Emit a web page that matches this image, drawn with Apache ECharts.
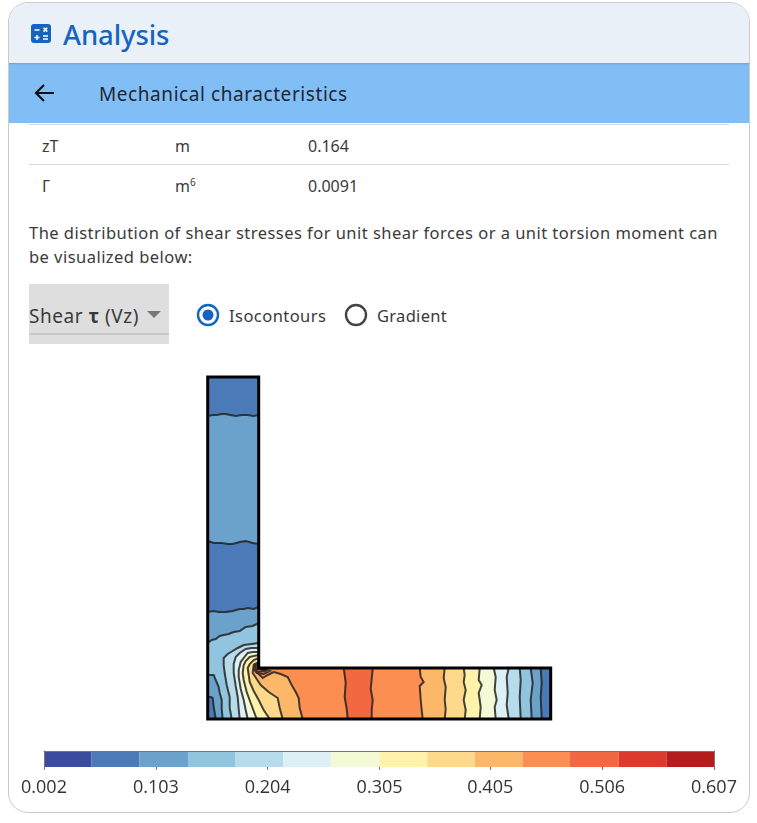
<!DOCTYPE html>
<html>
<head>
<meta charset="utf-8">
<title>Analysis</title>
<script src="https://cdn.jsdelivr.net/npm/echarts@6/dist/echarts.min.js"></script>
<style>
html,body{margin:0;padding:0;width:757px;height:823px;background:#fff;overflow:hidden;font-family:"Noto Sans",sans-serif;color:#3a3a3a}
.abs{position:absolute;white-space:nowrap}
#card{left:8px;top:2px;width:740px;height:809px;border:1px solid #c9c9c9;border-radius:20px;overflow:hidden}
#head{left:0;top:0;width:740px;height:60px;background:#e9f0f8}
#bar{left:0;top:60px;width:740px;height:60px;background:#82bef6;box-shadow:inset 0 2px 2px -1px rgba(60,110,170,.35)}
.rule{left:29px;width:700px;height:1px;background:#d6d6d6}
#container{position:absolute;left:0;top:350px;width:757px;height:460px}
</style>
</head>
<body>
<div class="abs" id="card">
	<div class="abs" id="head"></div>
	<div class="abs" id="bar"></div>
</div>
<svg class="abs" style="left:31px;top:24px" width="21" height="20" viewBox="0 0 21 20">
	<rect width="20" height="19" rx="3" fill="#1565c0"/>
	<path d="M3.500 6h5M3.500 13.500h5M6 11v5M12 12h5M12 15h5M12.500 3.800l3.800 3.800M16.300 3.800l-3.800 3.800" stroke="#fff" stroke-width="1.500" fill="none"/>
</svg>
<div class="abs" style="left:63px;top:15px;font-size:27.500px;line-height:40px;font-weight:500;letter-spacing:-.1px;color:#1565c0">Analysis</div>
<svg class="abs" style="left:33px;top:83px" width="22" height="20" viewBox="0 0 22 20">
	<path d="M21 10H3M11 2l-8 8 8 8" stroke="#111" stroke-width="2.200" fill="none"/>
</svg>
<div class="abs" style="left:99px;top:80px;font-size:19px;line-height:28px;letter-spacing:.57px;color:#1c2733">Mechanical characteristics</div>
<div class="abs rule" style="top:124px"></div>
<div class="abs rule" style="top:164px"></div>
<div class="abs" style="left:42px;top:134px;font-size:16px;line-height:24px">zT</div>
<div class="abs" style="left:175px;top:134px;font-size:16px;line-height:24px">m</div>
<div class="abs" style="left:308px;top:134px;font-size:16px;line-height:24px">0.164</div>
<div class="abs" style="left:42px;top:174px;font-size:16px;line-height:24px">Γ</div>
<div class="abs" style="left:175px;top:174px;font-size:16px;line-height:24px">m<sup style="font-size:10px;line-height:0">6</sup></div>
<div class="abs" style="left:308px;top:174px;font-size:16px;line-height:24px">0.0091</div>
<div class="abs" style="left:29px;top:221px;font-size:16.500px;line-height:24px;letter-spacing:.46px">The distribution of shear stresses for unit shear forces or a unit torsion moment can</div>
<div class="abs" style="left:29px;top:245px;font-size:16.500px;line-height:24px;letter-spacing:.46px">be visualized below:</div>
<div class="abs" style="left:29px;top:284px;width:140px;height:60px;background:#dedede"></div>
<div class="abs" style="left:29px;top:333px;width:140px;height:2px;background:#c9c9c9"></div>
<div class="abs" style="left:29px;top:302px;font-size:19px;line-height:28px;letter-spacing:.55px">Shear <b>τ</b> (Vz)</div>
<svg class="abs" style="left:147px;top:311px" width="14" height="8"><path d="M0 0h14l-7 7z" fill="#777"/></svg>
<svg class="abs" style="left:196px;top:303px" width="24" height="24">
	<circle cx="12" cy="12" r="10" fill="none" stroke="#1565c0" stroke-width="2.400"/><circle cx="12" cy="12" r="5.500" fill="#1565c0"/>
</svg>
<div class="abs" style="left:229px;top:304px;font-size:16.500px;line-height:24px;letter-spacing:.45px">Isocontours</div>
<svg class="abs" style="left:344px;top:303px" width="24" height="24">
	<circle cx="12" cy="12" r="10" fill="none" stroke="#444" stroke-width="2.400"/>
</svg>
<div class="abs" style="left:377px;top:304px;font-size:16.500px;line-height:24px;letter-spacing:.3px">Gradient</div>
<div id="container"></div>

<script type="text/javascript">
// colour classes of the scale, low to high
var bandColors=['#3b4ca0','#4a7ab7','#6aa2cb','#90c4df','#b6dcec','#dcf0f6','#f3fad6','#fff2aa','#fed98b','#fdb768','#fc8e52','#f26840','#db3a2c','#b51c1c'];
var bandEdges=[0.002,0.045,0.088,0.132,0.175,0.218,0.261,0.305,0.348,0.391,0.434,0.477,0.521,0.564,0.607];
var tickValues=[0.002,0.103,0.204,0.305,0.405,0.506,0.607];

// section outline, x and y measured from the lower left corner
var outline=[[0,342],[51,342],[51,51],[343,51],[343,0],[0,0]];

// isolines in the web, left to right
var web0=[[0,303],[5,304],[9,304],[14,305],[18,305],[23,304],[28,303],[34,304],[40,304],[46,303],[51,304]];
var web1=[[0,178],[3,177],[6,176],[14,176],[20,175],[25,175],[32,177],[38,178],[45,176],[51,175]];
var web2=[[0,107],[6,108],[11,107],[18,107],[25,108],[32,110],[36,110],[40,111],[46,110],[51,112]];
var web3=[[0,76],[4,79],[8,80],[12,83],[16,84],[21,85],[26,87],[32,88],[38,92],[45,93],[51,96]];
// lower left patches
var low3=[[0,44],[6,44],[8,39],[11,32],[12,26],[14,19],[14,10],[15,0]];
var low2=[[0,22],[3,22],[5,21],[6,12],[8,0]];
// isolines running from the web down to the bottom edge
var fan4=[[51,76],[44,75],[36,74],[30,71],[25,68],[20,65],[16,61],[16,54],[17,46],[19,34],[22,22],[22,11],[24,0]];
var fan5=[[51,71],[44,71],[38,70],[32,66],[28,62],[26,55],[26,46],[28,33],[30,22],[31,10],[32,0]];
var fan6=[[51,67],[45,67],[40,66],[36,61],[33,57],[31,49],[31,42],[33,30],[36,19],[38,9],[40,0]];
var fan7=[[51,64],[46,63],[42,62],[38,58],[36,54],[35,46],[36,39],[39,27],[43,16],[46,8],[49,0]];
var fan8=[[51,61],[46,59],[42,55],[40,51],[41,44],[42,37],[46,28],[51,19],[56,9],[62,0]];
var fan9=[[51,57],[46,54],[45,46],[49,40],[53,34],[61,27],[70,21],[72,11],[75,0]];
var fan10=[[51,51],[49,47],[55,41],[60,44],[66,47],[73,45],[80,42],[84,34],[88,27],[91,21],[92,11],[95,0]];
// isolines across the flange, top to bottom
var fl11=[[136,51],[137,44],[138,36],[137,22],[139,10],[140,0]];
var fl10=[[165,51],[164,40],[163,30],[165,19],[164,9],[164,0]];
var fl9=[[212,51],[213,42],[216,37],[212,33],[213,19],[214,9],[215,0]];
var fl8=[[237,51],[236,41],[238,32],[237,19],[238,10],[237,0]];
var fl7=[[256,51],[257,44],[256,37],[258,29],[256,19],[258,9],[257,0]];
var fl6=[[272,51],[271,39],[274,34],[271,26],[273,12],[272,0]];
var fl5=[[286,51],[288,42],[287,29],[289,19],[287,12],[288,0]];
var fl4=[[301,51],[299,42],[300,26],[299,14],[301,0]];
var fl3=[[312,51],[313,39],[312,22],[313,0]];
var fl2=[[323,51],[325,36],[323,19],[324,0]];
var fl1=[[333,51],[334,36],[333,22],[334,0]];
// small closed isolines round the re-entrant corner
var tip10=[[51,56],[47,55],[46,50],[49,46],[56,45],[62,48],[51,51]];
var tip11=[[51,55],[48,54],[48,50],[50,47],[57,48],[51,51]];
var tip12=[[51,54],[50,53],[50,50],[54,50],[51,51]];

var restBelow=[[51,51],[343,51],[343,0],[0,0]];
var restRight=[[343,0],[343,51]];
var fanRest=[[343,0],[343,51],[51,51]];

// painted in this order: [isoline, closing points, colour class]
var layers=[
	[outline,[],1],
	[web0,restBelow,2],
	[web1,restBelow,1],
	[web2,restBelow,2],
	[web3,restBelow,3],
	[low3,[[0,0]],2],
	[low2,[[0,0]],1],
	[fan4,fanRest,4],
	[fan5,fanRest,5],
	[fan6,fanRest,6],
	[fan7,fanRest,7],
	[fan8,fanRest,8],
	[fan9,fanRest,9],
	[fan10,restRight,10],
	[fl11,restRight,11],
	[fl10,restRight,10],
	[fl9,restRight,9],
	[fl8,restRight,8],
	[fl7,restRight,7],
	[fl6,restRight,6],
	[fl5,restRight,5],
	[fl4,restRight,4],
	[fl3,restRight,3],
	[fl2,restRight,2],
	[fl1,restRight,1],
	[tip10,[],10],
	[tip11,[],11],
	[tip12,[],12]
];

function toPixels(api,pts){
	var out=[];
	for(var i=0;i<pts.length;i++){
		out.push(api.coord(pts[i]));
	}
	return out;
}

var endLine={show:true,onZero:false,lineStyle:{color:'#777',width:1}};

var option={
	animation:false,
	grid:[
		{left:207.7,top:27,width:343,height:342},
		{left:44,top:401,width:670,height:16}
	],
	xAxis:[
		{gridIndex:0,type:'value',min:0,max:343,show:false},
		{
			gridIndex:1,type:'value',min:bandEdges[0],max:bandEdges[14],position:'bottom',z:10,
			axisLine:{show:false},
			splitLine:{show:false},
			axisTick:{show:true,length:3,lineStyle:{color:'#777'},customValues:tickValues},
			axisLabel:{
				show:true,margin:12,fontSize:18,color:'#333',fontFamily:'Open Sans',
				customValues:tickValues,
				formatter:function(v){return v.toFixed(3);}
			}
		},
		{
			gridIndex:1,type:'value',min:bandEdges[0],max:bandEdges[14],position:'top',z:10,
			axisLine:endLine,
			axisTick:{show:false},axisLabel:{show:false},splitLine:{show:false}
		}
	],
	yAxis:[
		{gridIndex:0,type:'value',min:0,max:342,show:false},
		{
			gridIndex:1,type:'value',min:0,max:1,position:'left',z:10,
			axisLine:endLine,axisTick:{show:false},axisLabel:{show:false},splitLine:{show:false}
		},
		{
			gridIndex:1,type:'value',min:0,max:1,position:'right',z:10,
			axisLine:endLine,axisTick:{show:false},axisLabel:{show:false},splitLine:{show:false}
		}
	],
	series:[
		{
			// filled classes and their isolines
			type:'custom',
			xAxisIndex:0,yAxisIndex:0,
			silent:true,
			clip:false,
			data:layers.map(function(l,i){return [i];}),
			renderItem:function(params,api){
				var l=layers[params.dataIndex];
				var line=toPixels(api,l[0]);
				var rest=toPixels(api,l[1]);
				var kids=[{
					type:'polygon',
					shape:{points:line.concat(rest)},
					style:{fill:bandColors[l[2]],stroke:bandColors[l[2]],lineWidth:.5}
				}];
				if(l[0]!==outline){
					kids.push({
						type:'polyline',
						shape:{points:l[1].length?line:line.concat([line[0]])},
						style:{fill:null,stroke:'rgba(35,35,35,.85)',lineWidth:2}
					});
				}
				return {type:'group',children:kids};
			}
		},
		{
			// black section outline on top
			type:'custom',
			xAxisIndex:0,yAxisIndex:0,
			silent:true,
			clip:false,
			data:[[0]],
			z:5,
			renderItem:function(params,api){
				return {
					type:'polygon',
					shape:{points:toPixels(api,outline)},
					style:{fill:null,stroke:'#000',lineWidth:3}
				};
			}
		},
		{
			// colour scale
			type:'custom',
			xAxisIndex:1,yAxisIndex:1,
			silent:true,
			data:bandColors.map(function(c,i){return [bandEdges[i],bandEdges[i+1]];}),
			renderItem:function(params,api){
				var a=api.coord([api.value(0),1]);
				var b=api.coord([api.value(1),0]);
				return {
					type:'rect',
					shape:{x:a[0],y:a[1],width:b[0]-a[0],height:b[1]-a[1]},
					style:{fill:bandColors[params.dataIndex]}
				};
			}
		}
	]
};

var dom=document.getElementById('container');
var myChart=echarts.init(dom);
myChart.setOption(option);
</script>
</body>
</html>
